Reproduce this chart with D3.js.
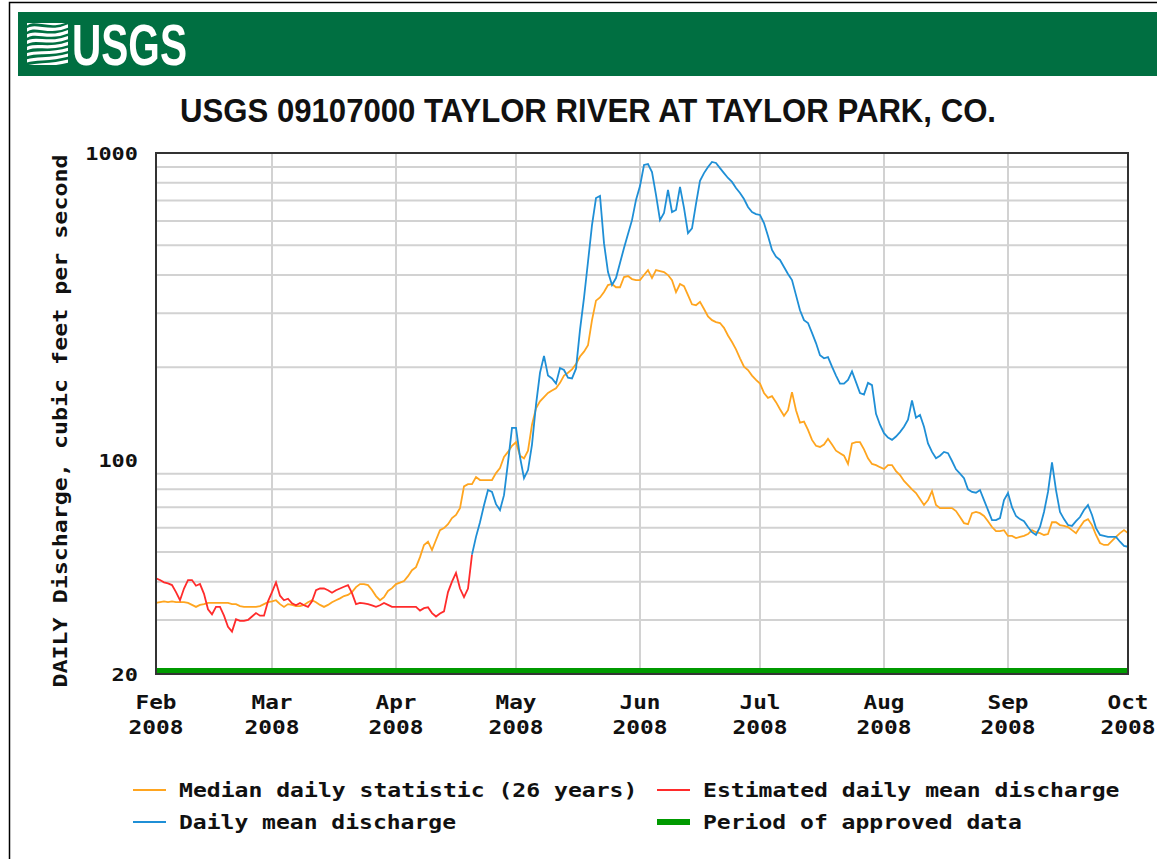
<!DOCTYPE html>
<html>
<head>
<meta charset="UTF-8">
<title>USGS 09107000 Taylor River at Taylor Park, CO.</title>
<script src="https://cdnjs.cloudflare.com/ajax/libs/d3/7.8.5/d3.min.js"></script>
<style>
  body { margin: 0; background: #fff; }
  .mono { font-family: "DejaVu Sans Mono", monospace; font-weight: bold; fill: #111; }
</style>
</head>
<body>
<script>
// daily values, cubic feet per second, first value is Feb 1 2008
var startDate = new Date(2008, 1, 1),
    endDate = new Date(2008, 9, 1);

var medianValues = [
  34.1, 34.3, 34.5, 34.3, 34.5, 34.3, 34.3, 34.3, 34.1, 33.6,
  33.1, 33.6, 33.8, 34.1, 34.1, 34.1, 34.1, 34.1, 34.1, 33.8,
  33.8, 33.3, 33.1, 33.1, 33.1, 33.1, 33.3, 33.8, 34.3, 34.5,
  34.8, 33.8, 33.1, 33.8, 33.6, 33.3, 33.3, 33.6, 34.3, 34.8,
  34.3, 33.6, 33.1, 33.6, 34.3, 34.8, 35.3, 35.9, 36.2, 37,
  38.4, 39.3, 39.3, 39, 37.6, 35.9, 34.8, 35.6, 37.3, 38.1,
  39.3, 39.7, 40.2, 41.7, 43.6, 44.6, 48.1, 52.7, 54, 50.7,
  54.7, 58.9, 59.8, 61.6, 64.5, 66, 69.5, 81.8, 83.2, 83.2,
  87.8, 85.8, 85.8, 85.8, 85.8, 90.4, 93.9, 102, 106, 111,
  114, 103, 101, 107, 130, 147, 155, 160, 165, 168,
  171, 178, 188, 192, 197, 205, 217, 225, 236, 285,
  330, 338, 352, 371, 374, 365, 365, 394, 397, 388,
  385, 385, 400, 415, 391, 415, 412, 409, 400, 385,
  352, 374, 368, 344, 321, 319, 327, 310, 293, 285,
  281, 279, 269, 254, 242, 229, 214, 201, 196, 188,
  182, 177, 165, 159, 161, 154, 146, 139, 145, 166,
  145, 132, 133, 125, 116, 111, 110, 112, 117, 112,
  107, 105, 103, 96.8, 113, 114, 114, 108, 101, 96.8,
  96, 94.5, 93.2, 96, 96, 91.8, 89.1, 85.2, 82.6, 80,
  77.8, 74.4, 71.1, 73.8, 79, 71.1, 69.5, 69.5, 69.5, 69.5,
  68, 65, 62.1, 61.6, 66.9, 67.5, 66.9, 65.5, 63, 60.3,
  58.5, 58.5, 58.9, 56.4, 56.4, 55.5, 56, 56.4, 57.2, 58.9,
  58, 57.6, 56.8, 57.2, 62.5, 62.5, 61.2, 60.8, 60.3, 58.9,
  57.6, 60.3, 63, 64, 61.2, 56.8, 53.5, 52.7, 52.7, 54.3,
  56, 57.6, 58.9, 57.6
];

// estimated values, Feb 1 to Apr 20
var estimatedValues = [
  41, 40.5, 39.8, 39.5, 39, 37, 34.8, 38, 40.5, 40.5,
  38.8, 39.3, 36.5, 32.5, 31.3, 33.1, 33.1, 31, 28.5, 27.5,
  30.2, 29.8, 29.8, 30, 30.8, 31.6, 31, 31, 34.5, 37,
  39.8, 36, 34.8, 35.2, 34, 33.5, 34.1, 33.5, 33.1, 34.5,
  37.5, 38, 38, 37.5, 36.8, 37.5, 38, 38.5, 39, 36.7,
  33.8, 34.1, 34, 33.8, 33.5, 33.1, 33.5, 34.1, 33.6, 33.1,
  33.1, 33.1, 33.1, 33.1, 33.1, 33.1, 32.2, 32.8, 33, 31.6,
  30.8, 31.5, 32, 37, 40, 42.7, 38, 35.6, 38, 49
];

// daily mean, Apr 20 to Oct 1
var dailyStart = 79;
var dailyMeanValues = [
  49, 56, 62.5, 71, 79.6, 78.5, 71.6, 68.5, 76.6, 98,
  127, 127, 102, 87, 92.5, 112, 151, 192, 218, 188,
  184, 177, 199, 196, 185, 184, 198, 265, 337, 442,
  582, 713, 724, 508, 409, 371, 391, 438, 490, 544,
  604, 703, 780, 914, 920, 867, 730, 604, 637, 758,
  642, 652, 775, 662, 548, 568, 682, 811, 860, 900,
  935, 928, 893, 860, 829, 805, 769, 741, 708, 667,
  642, 632, 628, 591, 536, 483, 459, 448, 425, 403,
  385, 344, 307, 285, 279, 259, 240, 219, 214, 216,
  201, 188, 177, 177, 182, 194, 179, 165, 163, 178,
  175, 141, 130, 122, 118, 116, 119, 123, 128, 135,
  156, 137, 140, 128, 113, 106, 101, 103, 106, 105,
  99, 93, 90, 87, 80, 78.5, 78, 79.6, 73.8, 68.5,
  63.5, 63.5, 64.5, 73.8, 77.8, 70, 65.5, 64, 63, 60.3,
  58, 56.8, 60.3, 67.5, 78.5, 98, 79.6, 67.5, 64, 61.2,
  60.8, 63, 65, 68.5, 71.1, 66, 59.8, 56.8, 56.4, 56,
  56, 56, 54, 52.3, 52
];

var monthLabels = ["Feb", "Mar", "Apr", "May", "Jun", "Jul", "Aug", "Sep", "Oct"];
var yearLabel = "2008";
var yTicks = [20, 100, 1000];
var yGrid = [30, 40, 50, 60, 70, 80, 90, 200, 300, 400, 500, 600, 700, 800, 900];
var legendLabels = ["Median daily statistic (26 years)", "Estimated daily mean discharge",
                    "Daily mean discharge", "Period of approved data"];

var title = "USGS 09107000 TAYLOR RIVER AT TAYLOR PARK, CO.";
var yTitle = "DAILY Discharge, cubic feet per second";

var colors = {median: "#ffa51f", estimated: "#ff2b2b", daily: "#1f8fd6", approved: "#009a00", grid: "#d2d2d2"};

var svg = d3.select("body").append("svg")
  .attr("width", 1157)
  .attr("height", 859);

// outer frame and banner
svg.append("rect").attr("x", 9.5).attr("y", 2.5).attr("width", 1200).attr("height", 900)
  .attr("fill", "none").attr("stroke", "#000").attr("stroke-width", 1.5);
svg.append("rect").attr("x", 18).attr("y", 12).attr("width", 1150).attr("height", 64)
  .attr("fill", "#006f41");

// wave icon
var icon = svg.append("g");
icon.append("clipPath").attr("id", "iconclip")
  .append("rect").attr("x", 27).attr("y", 23).attr("width", 41).attr("height", 42);
var waves = icon.append("g").attr("clip-path", "url(#iconclip)");
[0, 6, 12, 18, 24, 30, 36, 42].forEach(function(o, i) {
  var yy = 20 + o;
  waves.append("path")
    .attr("d", "M24," + (yy + 6) + " C36," + (yy - 6 + i) + " 48," + (yy + 12 - i) + " 72," + (yy - 2))
    .attr("fill", "none").attr("stroke", "#fff").attr("stroke-width", 3.2);
});

svg.append("text").attr("x", 72).attr("y", 65)
  .attr("textLength", 115).attr("lengthAdjust", "spacingAndGlyphs")
  .style("font-family", "Liberation Sans, Arial, sans-serif").style("font-weight", "bold")
  .style("font-size", "58px").attr("fill", "#fff").text("USGS");

svg.append("text").attr("x", 180).attr("y", 122)
  .attr("textLength", 816).attr("lengthAdjust", "spacingAndGlyphs")
  .style("font-family", "Liberation Sans, Arial, sans-serif").style("font-weight", "bold")
  .style("font-size", "34px").attr("fill", "#111").text(title);

// scales
var x = d3.scaleTime().domain([startDate, endDate]).range([156, 1128]);
var y = d3.scaleLog().domain([20, 1000]).range([674, 153]);

function toPoints(values, offset) {
  return values.map(function(v, i) {
    return {date: d3.timeDay.offset(startDate, offset + i), value: v};
  });
}

// grid
var months = d3.timeMonth.range(startDate, d3.timeDay.offset(endDate, 1));
svg.append("g").selectAll("line.h")
  .data(yGrid).enter().append("line")
  .attr("x1", 156).attr("x2", 1128)
  .attr("y1", function(d) { return y(d); }).attr("y2", function(d) { return y(d); })
  .attr("stroke", colors.grid).attr("stroke-width", 2);
svg.append("g").selectAll("line.v")
  .data(months.slice(1, -1)).enter().append("line")
  .attr("x1", function(d) { return x(d); }).attr("x2", function(d) { return x(d); })
  .attr("y1", 153).attr("y2", 674)
  .attr("stroke", colors.grid).attr("stroke-width", 2);

// approved data bar
svg.append("rect").attr("x", x(startDate)).attr("y", 668)
  .attr("width", x(endDate) - x(startDate)).attr("height", 6)
  .attr("fill", colors.approved);

var line = d3.line()
  .x(function(d) { return x(d.date); })
  .y(function(d) { return y(d.value); });

svg.append("path").datum(toPoints(medianValues, 0))
  .attr("d", line).attr("fill", "none").attr("stroke", colors.median).attr("stroke-width", 1.8);
svg.append("path").datum(toPoints(estimatedValues, 0))
  .attr("d", line).attr("fill", "none").attr("stroke", colors.estimated).attr("stroke-width", 1.8);
svg.append("path").datum(toPoints(dailyMeanValues, dailyStart))
  .attr("d", line).attr("fill", "none").attr("stroke", colors.daily).attr("stroke-width", 1.8);

// frame
svg.append("rect").attr("x", 156).attr("y", 153).attr("width", 972).attr("height", 521)
  .attr("fill", "none").attr("stroke", "#333").attr("stroke-width", 2);

// y tick labels
svg.append("g").selectAll("text")
  .data(yTicks).enter().append("text")
  .attr("class", "mono")
  .attr("x", 138).attr("y", function(d) { return y(d) + 7; })
  .attr("text-anchor", "end")
  .attr("textLength", function(d) { return String(d).length * 13.2; })
  .attr("lengthAdjust", "spacingAndGlyphs")
  .style("font-size", "18px")
  .text(function(d) { return d; });

// x tick labels
var xl = svg.append("g").selectAll("g")
  .data(months).enter().append("g")
  .attr("transform", function(d) { return "translate(" + x(d) + ",0)"; });
xl.append("text").attr("class", "mono").attr("y", 709).attr("text-anchor", "middle")
  .attr("textLength", 41).attr("lengthAdjust", "spacingAndGlyphs")
  .style("font-size", "19px")
  .text(function(d, i) { return monthLabels[i]; });
xl.append("text").attr("class", "mono").attr("y", 734).attr("text-anchor", "middle")
  .attr("textLength", 55).attr("lengthAdjust", "spacingAndGlyphs")
  .style("font-size", "19px")
  .text(yearLabel);

// y title
svg.append("text").attr("class", "mono")
  .attr("transform", "translate(67,421) rotate(-90)")
  .attr("text-anchor", "middle")
  .attr("textLength", 533).attr("lengthAdjust", "spacingAndGlyphs")
  .style("font-size", "19px")
  .text(yTitle);

// legend
var legendItems = [
  {label: legendLabels[0], color: colors.median, x: 133, y: 790, w: 2},
  {label: legendLabels[1], color: colors.estimated, x: 657, y: 790, w: 2},
  {label: legendLabels[2], color: colors.daily, x: 133, y: 822, w: 2},
  {label: legendLabels[3], color: colors.approved, x: 657, y: 822, w: 6}
];
var lg = svg.append("g").selectAll("g")
  .data(legendItems).enter().append("g")
  .attr("transform", function(d) { return "translate(" + d.x + "," + d.y + ")"; });
lg.append("line").attr("x1", 0).attr("x2", 33).attr("y1", 0).attr("y2", 0)
  .attr("stroke", function(d) { return d.color; })
  .attr("stroke-width", function(d) { return d.w; });
lg.append("text").attr("class", "mono").attr("x", 46).attr("y", 7)
  .attr("textLength", function(d) { return d.label.length * 13.95 - 2; })
  .attr("lengthAdjust", "spacingAndGlyphs")
  .style("font-size", "19px")
  .text(function(d) { return d.label; });
</script>
</body>
</html>
